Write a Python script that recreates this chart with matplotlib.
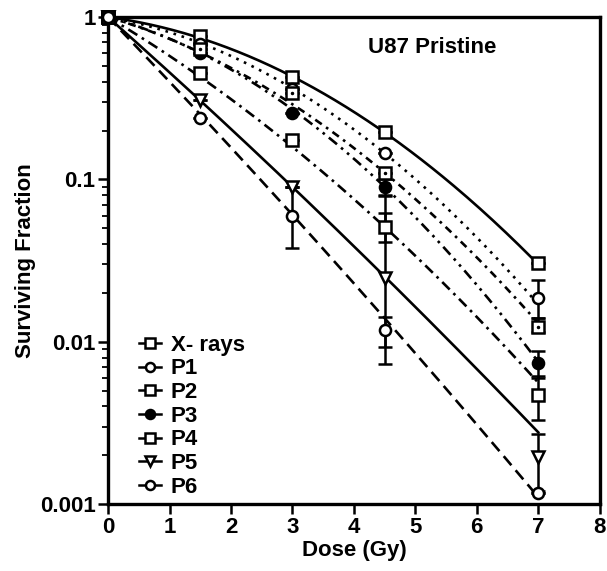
import numpy as np
import matplotlib.pyplot as plt
from matplotlib.lines import Line2D

plt.rcParams['font.family'] = ['Liberation Sans', 'DejaVu Sans']
plt.rcParams['font.weight'] = 'bold'

# measured points (dose in Gy, surviving fraction)
dose = [0, 1.5, 3, 4.5, 7]
labels = ['X- rays', 'P1', 'P2', 'P3', 'P4', 'P5', 'P6']
sf = {
    'X- rays': [1, 0.77, 0.43, 0.195, 0.0304],
    'P1': [1, 0.68, 0.36, 0.145, 0.0185],
    'P2': [1, 0.45, 0.175, 0.051, 0.0047],
    'P3': [1, 0.60, 0.256, 0.090, 0.0074],
    'P4': [1, 0.64, 0.34, 0.11, 0.0123],
    'P5': [1, 0.31, 0.090, 0.0247, 0.00195],
    'P6': [1, 0.24, 0.060, 0.0118, 0.00117],
}
# error bar bounds (lower, upper)
sf_lo = {
    'X- rays': [1, 0.77, 0.43, 0.195, 0.0304],
    'P1': [1, 0.68, 0.36, 0.145, 0.014],
    'P2': [1, 0.45, 0.175, 0.041, 0.0033],
    'P3': [1, 0.60, 0.256, 0.079, 0.0060],
    'P4': [1, 0.64, 0.34, 0.11, 0.0115],
    'P5': [1, 0.31, 0.090, 0.0073, 0.0012],
    'P6': [1, 0.24, 0.038, 0.0093, 0.00117],
}
sf_hi = {
    'X- rays': [1, 0.77, 0.43, 0.195, 0.0304],
    'P1': [1, 0.68, 0.36, 0.145, 0.024],
    'P2': [1, 0.45, 0.175, 0.062, 0.0062],
    'P3': [1, 0.60, 0.256, 0.10, 0.0088],
    'P4': [1, 0.64, 0.34, 0.11, 0.0140],
    'P5': [1, 0.31, 0.090, 0.080, 0.0027],
    'P6': [1, 0.24, 0.090, 0.0142, 0.00117],
}
# linear-quadratic fit parameters
alpha = {'X- rays': 0.116, 'P1': 0.153, 'P2': 0.518, 'P3': 0.240,
         'P4': 0.256, 'P5': 0.774, 'P6': 0.906}
beta = {'X- rays': 0.055, 'P1': 0.0613, 'P2': 0.0318, 'P3': 0.0655,
        'P4': 0.052, 'P5': 0.0096, 'P6': 0.0095}

markers = {'X- rays': 's', 'P1': 'o', 'P2': 's', 'P3': 'o', 'P4': 's', 'P5': 'v', 'P6': 'o'}
faces = {'X- rays': 'white', 'P1': 'white', 'P2': 'white', 'P3': 'black',
         'P4': 'white', 'P5': 'white', 'P6': 'white'}
styles = {'X- rays': '-', 'P1': (0, (1, 2.2)), 'P2': (0, (4, 2, 1, 2)),
          'P3': (0, (4, 2, 1, 2, 1, 2)), 'P4': (0, (3, 2, 1, 2)),
          'P5': '-', 'P6': (0, (4.5, 2.5))}

fig = plt.figure(figsize=(6.07, 5.71), dpi=100)
ax = fig.add_axes([0.178, 0.117, 0.81, 0.853])

dd = np.linspace(0, 7, 200)
for lab in labels:
    fit = np.exp(-alpha[lab] * dd - beta[lab] * dd ** 2)
    ax.plot(dd, fit, color='black', lw=1.9, linestyle=styles[lab], zorder=2)

for lab in labels:
    y = np.array(sf[lab])
    lo = y - np.array(sf_lo[lab])
    hi = np.array(sf_hi[lab]) - y
    ax.errorbar(dose, y, yerr=[lo, hi], fmt='none', ecolor='black',
                elinewidth=1.8, capsize=5, capthick=1.8, zorder=3, clip_on=False)
    ax.plot(dose, y, linestyle='none', marker=markers[lab], ms=8,
            mfc=faces[lab], mec='black', mew=1.8, zorder=4, clip_on=False)
    if lab == 'P4':
        ax.plot(dose[1:], y[1:], linestyle='none', marker='.', ms=3,
                color='black', zorder=5)

ax.set_yscale('log')
ax.set_xlim(0, 8)
ax.set_ylim(0.001, 1)
ax.set_xticks(range(0, 9))
ax.set_yticks([0.001, 0.01, 0.1, 1])
ax.set_yticklabels(['0.001', '0.01', '0.1', '1'])
ax.tick_params(axis='both', which='major', labelsize=16, width=1.8, length=7,
               direction='out', top=False, right=False, pad=2)
ax.tick_params(axis='y', which='minor', width=1.3, length=4, direction='out', right=False)
for sp in ax.spines.values():
    sp.set_linewidth(2.4)

ax.set_xlabel('Dose (Gy)', fontsize=16, fontweight='bold', labelpad=2)
ax.set_ylabel('Surviving Fraction', fontsize=16, fontweight='bold', labelpad=3)
ax.text(5.27, 0.65, 'U87 Pristine', fontsize=16, fontweight='bold',
        ha='center', va='center')

handles = [Line2D([0], [0], color='black', lw=1.8, marker=markers[lab], ms=6.5,
                  mfc=faces[lab], mec='black', mew=1.8) for lab in labels]
ax.legend(handles, labels, loc='upper left', bbox_to_anchor=(0.062, 0.348),
          frameon=False, fontsize=16, handlelength=1.0, handletextpad=0.45,
          labelspacing=0.12, borderpad=0, borderaxespad=0)

plt.savefig('out.png', dpi=100)
